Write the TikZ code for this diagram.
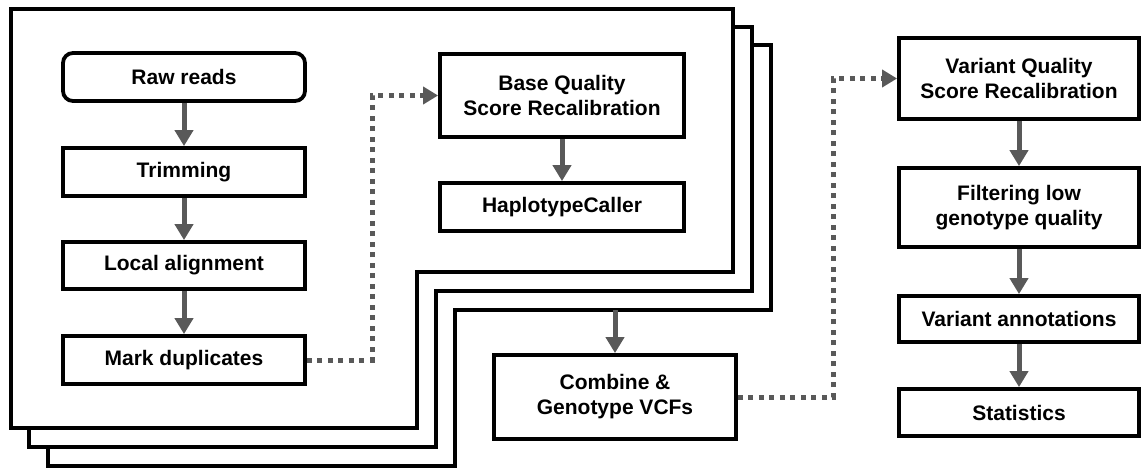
\documentclass[tikz,border=0pt]{standalone}
\usepackage{fontspec}
\setmainfont{Liberation Sans}
\usetikzlibrary{arrows.meta}
\definecolor{arrowgray}{RGB}{89,89,89}
\begin{document}
\begin{tikzpicture}[x=1pt,y=-1pt,
  box/.style={draw, line width=3.8pt, fill=white, inner sep=0pt, align=center,
    font=\fontsize{21}{25}\selectfont\bfseries},
  frame/.style={draw, line width=4pt, fill=white, line join=miter},
  flow/.style={draw=arrowgray, line width=5pt, -{Triangle[width=18pt,length=16pt]}},
  dots/.style={draw=arrowgray, line width=5pt, dash pattern=on 5pt off 5.5pt,
    -{Triangle[width=17pt,length=15pt]}}]
\useasboundingbox (0,0) rectangle (1143,469);
% stacked frames (back to front)
\draw[frame] (48,45) -- (771,45) -- (771,310) -- (455,310) -- (455,466) -- (48,466) -- cycle;
\draw[frame] (29,27) -- (752,27) -- (752,291) -- (436,291) -- (436,447) -- (29,447) -- cycle;
\draw[frame] (11,9) -- (733,9) -- (733,272) -- (417,272) -- (417,428) -- (11,428) -- cycle;
% left column
\node[box, minimum width=242pt, minimum height=48pt, rounded corners=10pt] (raw) at (184,77) {Raw reads};
\node[box, minimum width=242pt, minimum height=48pt] (trim) at (184,172) {Trimming};
\node[box, minimum width=242pt, minimum height=47pt] (local) at (184,265.5) {Local alignment};
\node[box, minimum width=242pt, minimum height=48pt] (mark) at (184,360) {Mark duplicates};
% middle column
\node[box, minimum width=244pt, minimum height=83pt] (bqsr) at (562,95.5) {Base Quality\\Score Recalibration};
\node[box, minimum width=244pt, minimum height=48pt] (hap) at (562,207) {HaplotypeCaller};
\node[box, minimum width=242pt, minimum height=84pt] (combine) at (615,397) {Combine \&\\Genotype VCFs};
% right column
\node[box, minimum width=240pt, minimum height=81pt] (vqsr) at (1019,78.5) {Variant Quality\\Score Recalibration};
\node[box, minimum width=240pt, minimum height=79pt] (filt) at (1019,207.5) {Filtering low\\genotype quality};
\node[box, minimum width=240pt, minimum height=46pt] (annot) at (1019,319) {Variant annotations};
\node[box, minimum width=240pt, minimum height=47pt] (stats) at (1019,412.5) {Statistics};
% solid flow arrows
\draw[flow] (raw) -- (trim);
\draw[flow] (trim) -- (local);
\draw[flow] (local) -- (mark);
\draw[flow] (bqsr) -- (hap);
\coordinate (f3) at (615,310);
\draw[flow] (f3) -- (combine.north);
\draw[flow] (vqsr) -- (filt);
\draw[flow] (filt) -- (annot);
\draw[flow] (annot) -- (stats);
% dotted connectors
\coordinate (k1) at (372,0);
\coordinate (k2) at (833,0);
\draw[dots] (mark.east) -| (k1 |- bqsr.west) -- (bqsr.west);
\draw[dots] (combine.east) -| (k2 |- vqsr.west) -- (vqsr.west);
\end{tikzpicture}
\end{document}
